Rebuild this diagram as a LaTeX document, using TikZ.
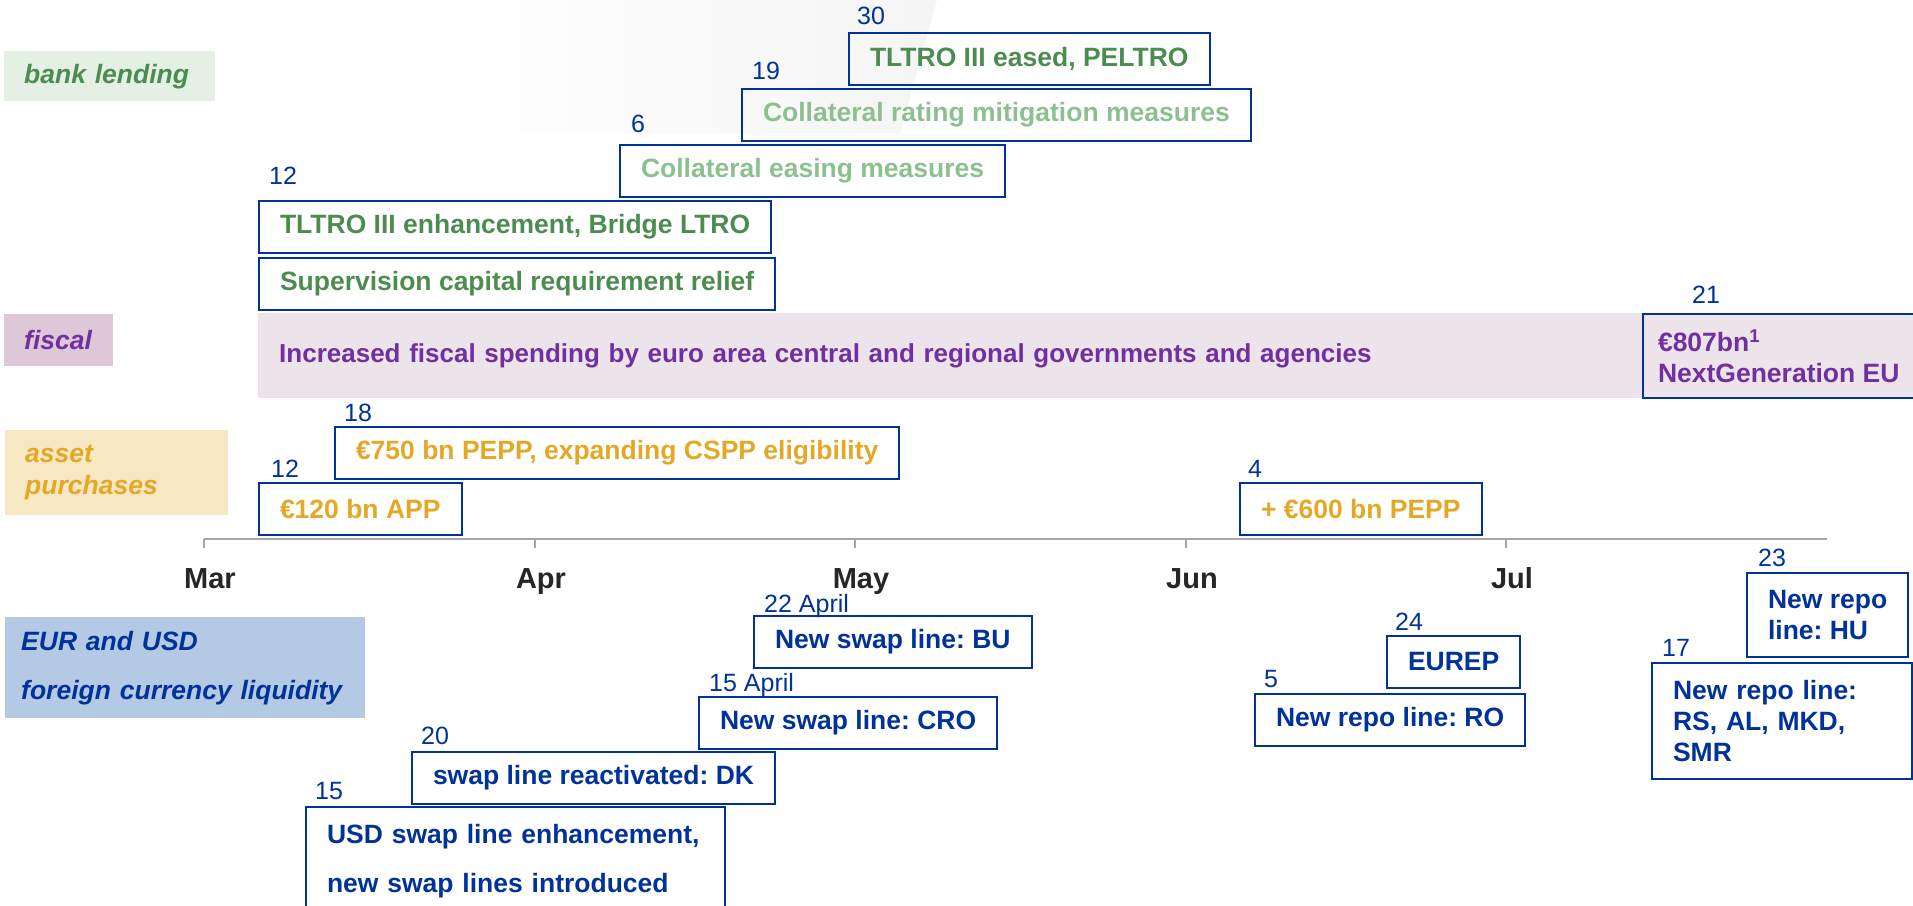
\documentclass[tikz,border=0pt]{standalone}
\usepackage{fontspec}
\setmainfont{Liberation Sans}
\usepackage{tikz}
\usetikzlibrary{positioning}

\definecolor{ecbblue}{HTML}{003299}
\definecolor{dkgreen}{HTML}{4C8C50}
\definecolor{ltgreen}{HTML}{8CC08F}
\definecolor{fiscpurple}{HTML}{7030A0}
\definecolor{assetgold}{HTML}{E2A826}
\definecolor{bankfill}{HTML}{E3F0E3}
\definecolor{fiscfill}{HTML}{DEC8D8}
\definecolor{bandfill}{HTML}{EDE3EA}
\definecolor{assetfill}{HTML}{F8E7C3}
\definecolor{fxfill}{HTML}{B3C9E4}
\definecolor{axisgray}{HTML}{A6A6A6}
\definecolor{monthgray}{HTML}{262626}

\frenchspacing
\begin{document}
\begin{tikzpicture}[
    x=1pt, y=-1pt,
    evt/.style={rectangle, draw=ecbblue, line width=2pt, anchor=north west, inner xsep=21pt, minimum height=52pt, align=left, font=\fontsize{26.5}{31}\selectfont\bfseries},
    lendbox/.style={evt, text=dkgreen},
    collbox/.style={evt, text=ltgreen},
    assetbox/.style={evt, text=assetgold},
    fxbox/.style={evt, text=ecbblue},
    fiscbox/.style={evt, fill=bandfill, text=fiscpurple, inner xsep=15pt},
    catlabel/.style={rectangle, anchor=north west, inner xsep=20pt, align=left, font=\fontsize{26.5}{32}\selectfont\bfseries\itshape},
    daylabel/.style={inner sep=0pt, text depth=0pt, text=ecbblue, font=\fontsize{25}{25}\selectfont},
    month/.style={anchor=base, text=monthgray, font=\fontsize{29}{29}\selectfont\bfseries},
    axisline/.style={draw=axisgray, line width=2pt}
]
\useasboundingbox (0,0) rectangle (1913,905);

% background swoosh
\shade[left color=white, right color=black!4] (450,133) -- (900,133) -- (937,0) -- (450,0) -- cycle;

% categories
\node[catlabel, fill=bankfill, text=dkgreen, text width=171pt, minimum height=50pt] (cbank) at (4,51) {bank lending};
\node[catlabel, fill=fiscfill, text=fiscpurple, text width=69pt, minimum height=52pt] (cfisc) at (4,314) {fiscal};
\node[catlabel, fill=assetfill, text=assetgold, text width=183pt, minimum height=85pt] (casset) at (5,430) {asset\\purchases};
\node[catlabel, fill=fxfill, text=ecbblue, inner xsep=16pt, text width=328pt, minimum height=101pt] (cfx) at (5,617) {EUR and USD\\[17pt]foreign currency liquidity};

% bank lending
\node[lendbox] (tl30) at (848,32) {TLTRO III eased, PELTRO};
\node[collbox] (coll19) at (741,88) {Collateral rating mitigation measures};
\node[collbox] (coll6) at (619,144) {Collateral easing measures};
\node[lendbox] (tl12) at (258,200) {TLTRO III enhancement, Bridge LTRO};
\node[lendbox] (sup) at (258,257) {Supervision capital requirement relief};

\node[daylabel, above right=7pt and 9pt of tl30.north west] (d30) {30};
\node[daylabel, above right=8pt and 11pt of coll19.north west] (d19) {19};
\node[daylabel, above right=11pt and 12pt of coll6.north west] (d6) {6};
\node[daylabel, above right=15pt and 11pt of tl12.north west] (d12a) {12};

% fiscal
\node[rectangle, fill=bandfill, anchor=north west, inner xsep=21pt, minimum height=85pt, text width=1613pt, text=fiscpurple, font=\fontsize{26}{31}\selectfont\bfseries] (band) at (258,313) {Increased fiscal spending by euro area central and regional governments and agencies};
\node[fiscbox, minimum height=84pt] (ngeu) at (1642,313) {€807bn\textsuperscript{1}\\NextGeneration EU};
\node[daylabel, above right=9pt and 50pt of ngeu.north west] (d21) {21};

% asset purchases
\node[assetbox] (pepp750) at (334,426) {€750 bn PEPP, expanding CSPP eligibility};
\node[assetbox] (app) at (258,482) {€120 bn APP};
\node[assetbox] (pepp600) at (1239,482) {+ €600 bn PEPP};

\node[daylabel, above right=4pt and 10pt of pepp750.north west] (d18) {18};
\node[daylabel, above right=4pt and 13pt of app.north west] (d12b) {12};
\node[daylabel, above right=4pt and 9pt of pepp600.north west] (d4) {4};

% time axis
\draw[axisline] (204,539) -- (1827,539);
\foreach \x/\m in {204/Mar, 535/Apr, 855/May, 1186/Jun, 1506/Jul} {
  \draw[axisline] (\x,539) -- (\x,548);
  \node[month] (m\m) at (\x+6,588) {\m};
}

% foreign currency liquidity
\node[fxbox] (bu) at (753,615) {New swap line: BU};
\node[fxbox] (cro) at (698,696) {New swap line: CRO};
\node[fxbox] (dk) at (411,751) {swap line reactivated: DK};
\node[fxbox, text width=377pt, inner ysep=17pt] (usd) at (305,806) {USD swap line enhancement,\\[18pt]new swap lines introduced};
\node[fxbox] (eurep) at (1386,635) {EUREP};
\node[fxbox] (ro) at (1254,693) {New repo line: RO};
\node[fxbox, minimum height=84pt] (hu) at (1746,572) {New repo\\line: HU};
\node[fxbox, text width=218pt, minimum height=116pt] (rs) at (1651,662) {New repo line:\\RS, AL, MKD,\\SMR};

\node[daylabel, above right=2pt and 11pt of bu.north west] (d22) {22 April};
\node[daylabel, above right=4pt and 11pt of cro.north west] (d15a) {15 April};
\node[daylabel, above right=6pt and 10pt of dk.north west] (d20) {20};
\node[daylabel, above right=6pt and 10pt of usd.north west] (d15b) {15};
\node[daylabel, above right=4pt and 9pt of eurep.north west] (d24) {24};
\node[daylabel, above right=5pt and 10pt of ro.north west] (d5) {5};
\node[daylabel, above right=5pt and 12pt of hu.north west] (d23) {23};
\node[daylabel, above right=5pt and 11pt of rs.north west] (d17) {17};

\end{tikzpicture}
\end{document}
